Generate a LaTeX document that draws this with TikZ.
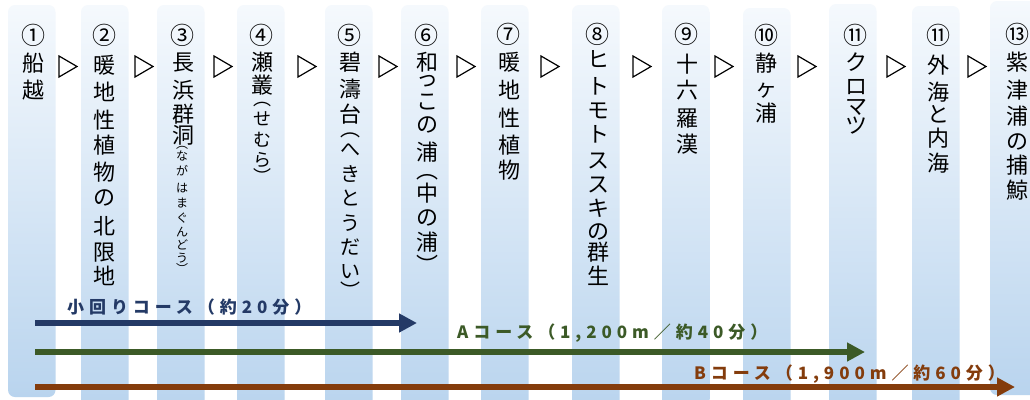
\documentclass[tikz,border=0pt]{standalone}
\usepackage{fontspec}
\usetikzlibrary{arrows.meta}
\newfontfamily\jpfont{Noto Sans CJK JP}
\newfontfamily\jplabel[LetterSpace=29]{Noto Sans CJK JP}
\definecolor{barTop}{HTML}{F5F9FD}
\definecolor{barBot}{HTML}{B9D4EE}
\definecolor{navyC}{HTML}{243A66}
\definecolor{greenC}{HTML}{3C5A27}
\definecolor{brownC}{HTML}{843C0C}
\tikzset{
  colbar/.style={top color=barTop, bottom color=barBot, rounded corners=7bp},
  vch/.style={inner sep=0pt, anchor=base, text=black, font=\jpfont\fontsize{#1bp}{#1bp}\selectfont},
  septri/.style={draw=black, line width=1.2bp, line join=miter},
  course/.style={line width=6bp, -{Triangle[length=18bp,width=18bp]}},
  clabel/.style={inner sep=0pt, anchor=base west, font=\jplabel\bfseries\fontsize{17bp}{17bp}\selectfont},
}
\newcommand\vcol[4]{\foreach \ch/\yy [count=\i] in {#4}{\node[vch=#3] (#1-\i) at (#2,{\yy+0.38*#3}) {\ch};}}
\newcommand\cnum[4]{\node[vch=24] (#1) at (#2,{#3+0.38*24}) {#4};}
\newcommand\sm[1]{\smash{#1}}
\begin{document}
\begin{tikzpicture}[x=1bp,y=-1bp]
\useasboundingbox (0,0) rectangle (1030,399);
\clip (0,0) rectangle (1030,399);
\fill[white] (0,0) rectangle (1030,399);
% columns
\foreach \l/\t/\b in {8/5/397, 81/5/410, 157/5/410, 237/5/410, 325/5/410, 401/5/410, 481/5/410, 572/5/410, 662/5/410, 743/8/410, 829/4/410, 912/6/410, 990/1/395}
  \shade[colbar] (\l,\t) rectangle (\l+47.5,\b);
% separators
\foreach \l in {59,135,214,298,379,457,541,633,715,798,887,968}
  \draw[septri] (\l,56) -- (\l+18,66.5) -- (\l,77) -- cycle;
% numbers
\cnum{n1}{33}{35}{①}
\cnum{n2}{104}{35}{②}
\cnum{n3}{182}{35}{③}
\cnum{n4}{261}{35}{④}
\cnum{n5}{349}{35}{⑤}
\cnum{n6}{426}{35}{⑥}
\cnum{n7}{508}{34}{⑦}
\cnum{n8}{597}{34}{⑧}
\cnum{n9}{686}{34}{⑨}
\cnum{n10}{766}{35}{⑩}
\cnum{n11}{855}{35}{⑪}
\cnum{n12}{938}{35}{⑪}
\cnum{n13}{1017}{34}{⑬}
% vertical texts
\vcol{t1}{33}{22}{船/63, 越/90}
\vcol{t2}{104}{22}{暖/65, 地/92, 性/120, 植/145, 物/172, の/197, 北/226, 限/252, 地/276}
\vcol{t3}{183}{22}{長/62, 浜/90, 群/114, 洞/135}
\vcol{t3s}{182}{12}{\sm{︵}/144, な/156, が/171, は/188, ま/203, ぐ/218, ん/232, ど/245, う/258, \sm{︶}/269}
\vcol{t4}{262}{22}{瀬/62, 叢/85}
\vcol{t4s}{262}{18}{\sm{︵}/99, せ/119, む/140, ら/160, \sm{︶}/177}
\vcol{t5}{350}{22}{碧/62, 濤/89, 台/114}
\vcol{t5s}{350}{20}{\sm{︵}/129, へ/149, き/174, と/198, う/223, だ/247, い/271, \sm{︶}/291}
\vcol{t6}{427}{22}{和/62, \sm{っ}/78, こ/101, の/124, 浦/152, \sm{︵}/170, 中/193, の/217, 浦/242, \sm{︶}/265}
\vcol{t7}{509}{22}{暖/62, 地/90, 性/118, 植/145, 物/170}
\vcol{t8}{598}{22}{ヒ/59, ト/86, モ/110, ト/134, ス/160, ス/184, キ/208, の/231, 群/252, 生/276}
\vcol{t9}{687}{22}{十/64, 六/90, 羅/118, 漢/144}
\vcol{t10}{766}{22}{静/63, ヶ/88, 浦/113}
\vcol{t11}{856}{22}{ク/62, ロ/86, マ/106, ツ/125}
\vcol{t12}{938}{22}{外/65, 海/92, と/114, 内/138, 海/163}
\vcol{t13}{1017}{22}{紫/62, 津/90, 浦/116, の/141, 捕/165, 鯨/190}
% course arrows
\coordinate (s1) at (35,323);
\coordinate (e1) at (417,323);
\coordinate (s2) at (35,352);
\coordinate (e2) at (865,352);
\coordinate (s3) at (35,387);
\coordinate (e3) at (1015,387);
\draw[course, navyC] (s1) -- (e1);
\draw[course, greenC] (s2) -- (e2);
\draw[course, brownC] (s3) -- (e3);
\node[clabel, text=navyC] (l1) at (67,{307+0.38*17}) {小回りコース（約20分）};
\node[clabel, text=greenC] (l2) at (457,{332+0.38*17}) {Aコース（1,200m／約40分）};
\node[clabel, text=brownC] (l3) at (694,{373+0.38*17}) {Bコース（1,900m／約60分）};
\end{tikzpicture}
\end{document}
